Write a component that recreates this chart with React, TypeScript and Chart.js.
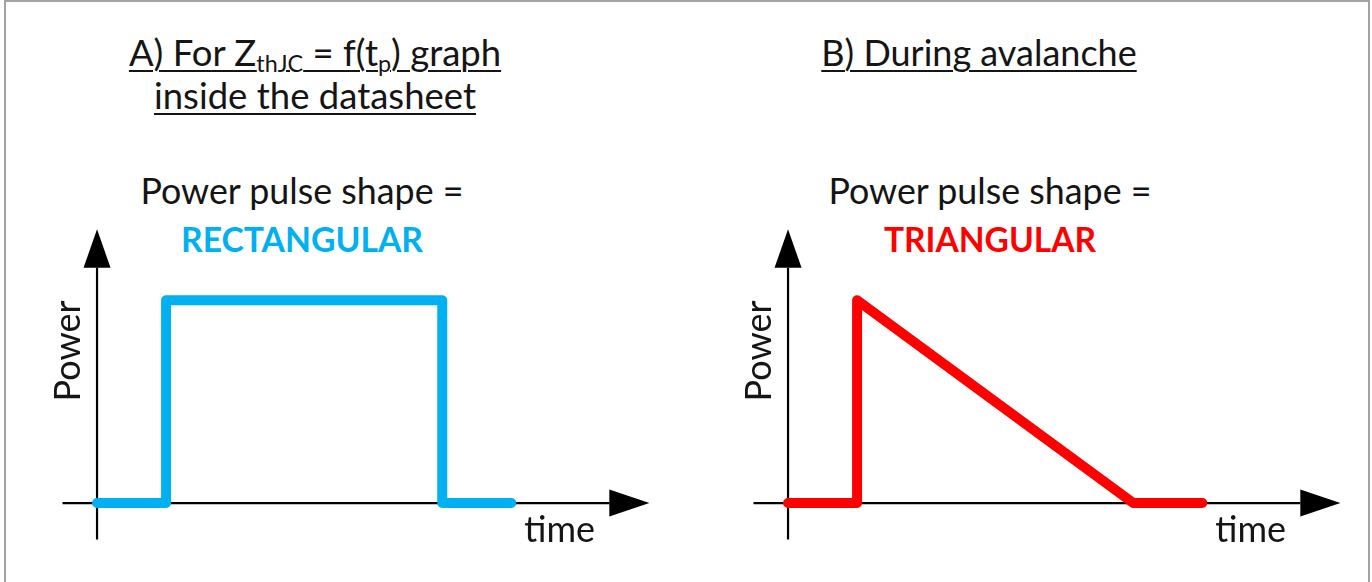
import React, { useEffect, useRef } from "react";
import { Chart, registerables } from "chart.js";

Chart.register(...registerables);

// ---- data ----
const rectTime = [0, 1, 1, 5, 5, 6];
const rectPower = [0, 0, 1, 1, 0, 0];
const triTime = [0, 1, 1, 5, 6];
const triPower = [0, 0, 1, 0, 0];

const titleA1 = ["A) For Z", "thJC", " = f(t", "p", ") graph"];
const titleA2 = "inside the datasheet";
const titleB = "B) During avalanche";
const shapeLabel = "Power pulse shape =";
const shapeA = "RECTANGULAR";
const shapeB = "TRIANGULAR";
const yLabel = "Power";
const xLabel = "time";

const BLUE = "#00B0F0";
const RED = "#FF0000";
const TEXT = "#151515";
const FONT = "Lato, 'Open Sans', sans-serif";

const axisPlugin = {
  id: "arrowAxes",
  beforeDatasetsDraw(chart: any) {
    const o = chart.options.plugins.arrowAxes;
    const xs = chart.scales.x;
    const ys = chart.scales.y;
    const ctx = chart.ctx;
    const ox = xs.getPixelForValue(0);
    const oy = ys.getPixelForValue(0);
    ctx.save();
    ctx.strokeStyle = "#000";
    ctx.fillStyle = "#000";
    ctx.lineWidth = 2.2;
    // horizontal axis
    const xStart = xs.getPixelForValue(o.xFrom);
    const xBase = xs.getPixelForValue(o.xArrowBase);
    const xTip = xs.getPixelForValue(o.xArrowTip);
    ctx.beginPath();
    ctx.moveTo(xStart, oy);
    ctx.lineTo(xBase, oy);
    ctx.stroke();
    ctx.beginPath();
    ctx.moveTo(xTip, oy);
    ctx.lineTo(xBase, oy - o.headHalf);
    ctx.lineTo(xBase, oy + o.headHalf);
    ctx.closePath();
    ctx.fill();
    // vertical axis
    const yStart = ys.getPixelForValue(o.yFrom);
    const yBase = ys.getPixelForValue(o.yArrowBase);
    const yTip = ys.getPixelForValue(o.yArrowTip);
    ctx.beginPath();
    ctx.moveTo(ox, yStart);
    ctx.lineTo(ox, yBase);
    ctx.stroke();
    ctx.beginPath();
    ctx.moveTo(ox, yTip);
    ctx.lineTo(ox - o.headHalf, yBase);
    ctx.lineTo(ox + o.headHalf, yBase);
    ctx.closePath();
    ctx.fill();
    // labels
    ctx.fillStyle = TEXT;
    ctx.font = `${o.labelSize}px ${FONT}`;
    ctx.textAlign = "center";
    ctx.textBaseline = "alphabetic";
    ctx.fillText(o.xLabel, xs.getPixelForValue(o.xLabelAt), oy + o.xLabelGap);
    ctx.save();
    ctx.translate(ox - o.yLabelGap, ys.getPixelForValue(o.yLabelAt));
    ctx.rotate(-Math.PI / 2);
    ctx.fillText(o.yLabel, 0, 0);
    ctx.restore();
    ctx.restore();
  },
};

function PulseChart(props: { times: number[]; powers: number[]; color: string; left: number }) {
  const ref = useRef<HTMLCanvasElement>(null);
  useEffect(() => {
    if (!ref.current) return;
    const chart = new Chart(ref.current, {
      type: "line",
      data: {
        datasets: [
          {
            data: props.times.map((t, i) => ({ x: t, y: props.powers[i] })),
            borderColor: props.color,
            borderWidth: 10,
            pointRadius: 0,
            borderCapStyle: "round",
            borderJoinStyle: "round",
            tension: 0,
            fill: false,
          },
        ],
      },
      options: {
        responsive: false,
        animation: false,
        events: [],
        layout: { padding: 0, autoPadding: false },
        scales: {
          x: { type: "linear", min: -1, max: 8.4, display: false },
          y: { type: "linear", min: -0.35, max: 1.45, display: false },
        },
        plugins: {
          legend: { display: false },
          tooltip: { enabled: false },
          title: { display: false },
          arrowAxes: {
            xFrom: -0.5,
            xArrowBase: 7.42,
            xArrowTip: 8,
            yFrom: -0.18,
            yArrowBase: 1.16,
            yArrowTip: 1.35,
            headHalf: 13.5,
            labelSize: 36,
            xLabel,
            yLabel,
            xLabelAt: 6.7,
            xLabelGap: 39,
            yLabelAt: 0.75,
            yLabelGap: 17,
          },
        } as any,
      },
      plugins: [axisPlugin],
    });
    return () => chart.destroy();
  }, []);
  return (
    <canvas
      ref={ref}
      width={649}
      height={365}
      style={{ position: "absolute", left: props.left, top: 209, width: 649, height: 365 }}
    />
  );
}

function Line(props: { cx: number; baseline: number; size: number; children: any; bold?: boolean; color?: string; underline?: boolean }) {
  const fs = props.size;
  return (
    <div
      style={{
        position: "absolute",
        left: props.cx,
        top: props.baseline - 0.987 * fs,
        transform: "translateX(-50%)",
        whiteSpace: "nowrap",
        fontFamily: FONT,
        fontSize: fs,
        lineHeight: 1.2,
        fontWeight: props.bold ? 700 : 400,
        color: props.color || TEXT,
        textDecoration: props.underline ? "underline" : "none",
        textDecorationThickness: props.underline ? 2 : undefined,
        textUnderlineOffset: props.underline ? 4 : undefined,
      }}
    >
      {props.children}
    </div>
  );
}

export default function App() {
  const sub = { fontSize: "0.64em", verticalAlign: "-0.25em" } as const;
  return (
    <div
      style={{
        position: "fixed",
        left: 0,
        top: 0,
        width: 1372,
        height: 582,
        overflow: "hidden",
        background: "#fff",
      }}
    >
      <div
        style={{
          position: "absolute",
          left: 4,
          top: 0,
          width: 1362,
          height: 600,
          border: "2px solid #a3a3a3",
        }}
      />
      <Line cx={315} baseline={67} size={36.5} underline>
        {titleA1[0]}
        <span style={sub}>{titleA1[1]}</span>
        {titleA1[2]}
        <span style={sub}>{titleA1[3]}</span>
        {titleA1[4]}
      </Line>
      <Line cx={315} baseline={110} size={36.5} underline>
        {titleA2}
      </Line>
      <Line cx={979} baseline={67} size={36} underline>
        {titleB}
      </Line>
      <Line cx={302} baseline={205} size={35.8}>
        {shapeLabel}
      </Line>
      <Line cx={302} baseline={252} size={33.7} bold color={BLUE}>
        {shapeA}
      </Line>
      <Line cx={990} baseline={205} size={35.8}>
        {shapeLabel}
      </Line>
      <Line cx={990} baseline={252} size={33.5} bold color={RED}>
        {shapeB}
      </Line>
      <PulseChart times={rectTime} powers={rectPower} color={BLUE} left={28} />
      <PulseChart times={triTime} powers={triPower} color={RED} left={719} />
    </div>
  );
}
